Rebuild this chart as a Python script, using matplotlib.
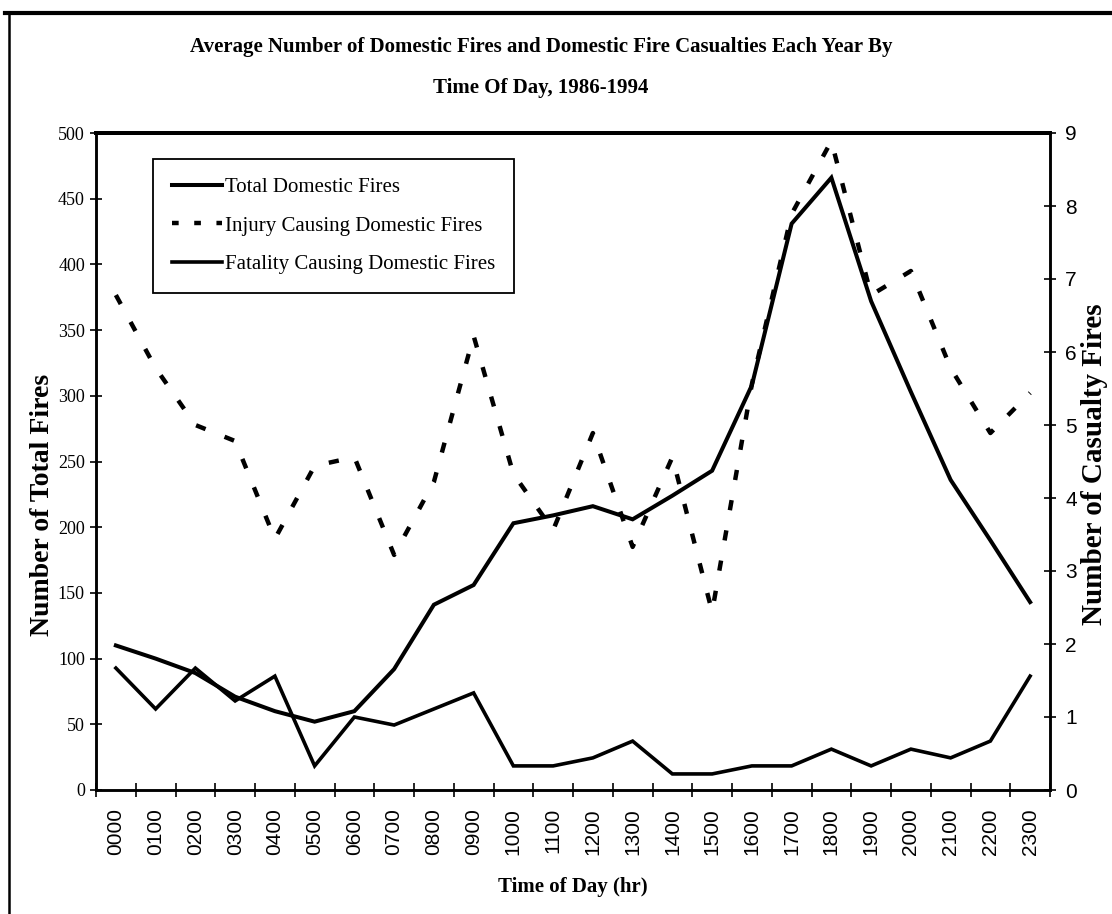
import matplotlib
matplotlib.use("Agg")
import matplotlib.pyplot as plt
from matplotlib.lines import Line2D
import numpy as np

# hourly categories
hours = ["0000", "0100", "0200", "0300", "0400", "0500", "0600", "0700",
         "0800", "0900", "1000", "1100", "1200", "1300", "1400", "1500",
         "1600", "1700", "1800", "1900", "2000", "2100", "2200", "2300"]

# left axis: average number of total domestic fires
total_fires = [110, 100, 89, 71, 60, 52, 60, 92, 141, 156, 203, 209,
               216, 206, 224, 243, 308, 431, 466, 372, 303, 236, 190, 143]

# right axis: casualty fires
injury_fires = [6.78, 5.78, 5.0, 4.78, 3.44, 4.44, 4.56, 3.22, 4.22, 6.22, 4.33, 3.56,
                4.89, 3.33, 4.56, 2.44, 5.56, 7.89, 8.89, 6.78, 7.11, 5.78, 4.89, 5.44]
fatality_fires = [1.67, 1.11, 1.67, 1.22, 1.56, 0.33, 1.0, 0.89, 1.11, 1.33, 0.33, 0.33,
                  0.44, 0.67, 0.22, 0.22, 0.33, 0.33, 0.56, 0.33, 0.56, 0.44, 0.67, 1.56]

left_ticks = list(range(0, 501, 50))
right_ticks = list(range(0, 10))

SERIF = "Liberation Serif"
SANS = "Liberation Sans"

W, H = 1112, 914
fig = plt.figure(figsize=(W / 100, H / 100), dpi=100)
fig.patch.set_facecolor("white")

ax = fig.add_axes([96 / W, 1 - 790 / H, (1050 - 96) / W, (790 - 133) / H])
ax2 = ax.twinx()

x = np.arange(len(hours))
ax.plot(x, total_fires, color="black", lw=2.9, solid_joinstyle="miter", zorder=3)
ax2.plot(x, injury_fires, color="black", lw=3.2, linestyle=(0, (2.3, 4.6)),
         dash_capstyle="butt", zorder=3)
ax2.plot(x, fatality_fires, color="black", lw=2.6, solid_joinstyle="miter", zorder=3)

ax.set_xlim(-0.5, len(hours) - 0.5)
ax.set_ylim(0, 500)
ax2.set_ylim(0, 9)

# category labels at centres, tick marks at boundaries
ax.set_xticks(x)
ax.set_xticklabels(hours, rotation=90, family=SANS, fontsize=15)
ax.set_xticks(np.arange(-0.5, len(hours)), minor=True)
ax.tick_params(axis="x", which="major", length=0, pad=13)
ax.tick_params(axis="x", which="minor", direction="inout", length=10, width=1.2)

ax.set_yticks(left_ticks)
ax.set_yticklabels([str(v) for v in left_ticks], family=SERIF, fontsize=13)
ax.tick_params(axis="y", direction="inout", length=8, width=1.2, pad=4)

ax2.set_yticks(right_ticks)
ax2.set_yticklabels([str(v) for v in right_ticks], family=SANS, fontsize=15)
ax2.tick_params(axis="y", direction="inout", length=8, width=1.2, pad=7)

for a in (ax, ax2):
    for s in a.spines.values():
        s.set_linewidth(1.8)
    a.spines["top"].set_linewidth(2.8)

# axis titles placed by hand so the right one stays inside the page
fig.text(43 / W, 1 - 505 / H, "Number of Total Fires", rotation=90,
         ha="center", va="center", family=SERIF, fontweight="bold", fontsize=20)
fig.text(1094 / W, 1 - 464 / H, "Number of Casualty Fires", rotation=90,
         ha="center", va="center", family=SERIF, fontweight="bold", fontsize=21)
ax.set_xlabel("Time of Day (hr)", family=SERIF, fontweight="bold", fontsize=15,
              labelpad=16)

fig.text(541 / W, 1 - 47 / H,
         "Average Number of Domestic Fires and Domestic Fire Casualties Each Year By",
         ha="center", va="center", family=SERIF, fontweight="bold", fontsize=15)
fig.text(541 / W, 1 - 88 / H, "Time Of Day, 1986-1994",
         ha="center", va="center", family=SERIF, fontweight="bold", fontsize=15)

handles = [
    Line2D([], [], color="black", lw=2.9),
    Line2D([], [], color="black", lw=3.2, linestyle=(0, (1.5, 3.5))),
    Line2D([], [], color="black", lw=2.6),
]
labels = ["Total Domestic Fires", "Injury Causing Domestic Fires",
          "Fatality Causing Domestic Fires"]
leg = ax2.legend(handles, labels, loc="upper left",
                 bbox_to_anchor=(153 / W, 1 - 159 / H), bbox_transform=fig.transFigure,
                 borderaxespad=0, prop={"family": SERIF, "size": 15},
                 handlelength=2.4, handletextpad=0.15, borderpad=0.9,
                 labelspacing=0.9, fancybox=False, framealpha=1)
leg.get_frame().set_edgecolor("black")
leg.get_frame().set_linewidth(1.3)

# page frame: heavy rule on top, thin rule at left
fig.add_artist(Line2D([5 / W, 1], [1 - 13 / H, 1 - 13 / H], color="black", lw=3,
                      transform=fig.transFigure))
fig.add_artist(Line2D([9 / W, 9 / W], [0, 1 - 13 / H], color="black", lw=1.8,
                      transform=fig.transFigure))

fig.savefig("out.png", dpi=100, facecolor="white")
